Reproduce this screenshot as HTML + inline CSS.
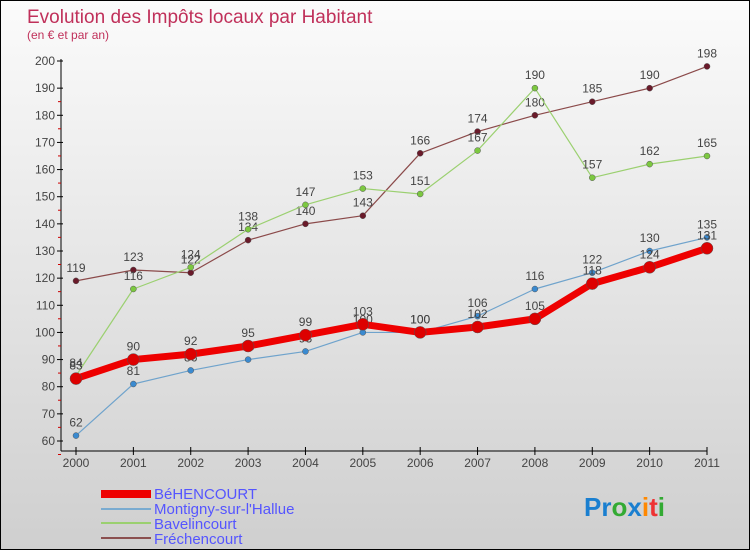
<!DOCTYPE html>
<html><head><meta charset="utf-8"><style>
body{margin:0}
#c{width:748px;height:548px;border:1px solid #000;background:linear-gradient(#fbfbfb,#cfcfcf);position:relative;font-family:"Liberation Sans",sans-serif;overflow:hidden}
</style></head><body>
<div id="c">
<svg id="s" width="748" height="548" style="position:absolute;left:0;top:0">
<text x="26" y="22" font-size="19" fill="#c0305a">Evolution des Impôts locaux par Habitant</text>
<text x="26" y="38" font-size="12" fill="#c0305a">(en € et par an)</text>
<g id="axes"></g><g id="series"></g>
<g>
<rect x="100" y="489" width="50" height="8" fill="#e00"/>
<text x="153" y="498" font-size="15" fill="#55f">BéHENCOURT</text>
<rect x="100" y="507" width="50" height="2" fill="#7aabd0"/>
<text x="153" y="513" font-size="15" fill="#55f">Montigny-sur-l'Hallue</text>
<rect x="100" y="521" width="50" height="2" fill="#9bd070"/>
<text x="153" y="528" font-size="15" fill="#55f">Bavelincourt</text>
<rect x="100" y="536" width="50" height="2" fill="#8b5050"/>
<text x="153" y="543" font-size="15" fill="#55f">Fréchencourt</text>
</g>
<text x="583" y="515" font-size="26" font-weight="bold"><tspan fill="#1a7fd0">Pr</tspan><tspan fill="#3a3">o</tspan><tspan fill="#1a7fd0">x</tspan><tspan fill="#f80">i</tspan><tspan fill="#e33">t</tspan><tspan fill="#3a3">i</tspan></text>
</svg>
</div>
<script>
const years=[2000,2001,2002,2003,2004,2005,2006,2007,2008,2009,2010,2011];
const behencourt=[83,90,92,95,99,103,100,102,105,118,124,131];
const montigny=[62,81,86,90,93,100,100,106,116,122,130,135];
const bavelincourt=[84,116,124,138,147,153,151,167,190,157,162,165];
const frechencourt=[119,123,122,134,140,143,166,174,180,185,190,198];
const yTicks=[60,70,80,90,100,110,120,130,140,150,160,170,180,190,200];
const NS="http://www.w3.org/2000/svg";
function X(i){return 75+i*(706-75)/11;}
function Y(v){return 440-(v-60)*380/140;}
function mk(t,a,p){const e=document.createElementNS(NS,t);for(const k in a)e.setAttribute(k,a[k]);p.appendChild(e);return e;}
const ax=document.getElementById('axes');
let l=mk('line',{x1:60,y1:58,x2:60,y2:450,stroke:'#000'},ax);


l=mk('line',{x1:60,y1:450,x2:706,y2:450,stroke:'#000'},ax);


yTicks.forEach(v=>{
 const y=Y(v);
 mk('line',{x1:56,y1:y,x2:62,y2:y,stroke:'#000'},ax);
 if(v<200)mk('line',{x1:57,y1:y+13.5,x2:60,y2:y+13.5,stroke:'#c00'},ax);
 const t=mk('text',{x:54,y:y+4,'font-size':12,fill:'#444','text-anchor':'end'},ax);
 t.textContent=v;
 
 
});
years.forEach((yr,i)=>{
 const x=X(i);
 mk('line',{x1:x,y1:446,x2:x,y2:454,stroke:'#000'},ax);
 const t=mk('text',{x:x,y:466,'font-size':12,fill:'#444','text-anchor':'middle'},ax);
 t.textContent=yr;
 
 
});
const sg=document.getElementById('series');
function series(name,data,color,w,dot,r){
 const g=mk('g',{},sg);
 
 
 const p=mk('polyline',{points:data.map((v,i)=>X(i)+','+Y(v)).join(' '),fill:'none',stroke:color,'stroke-width':w,'stroke-linejoin':'round'},g);
 
 
 data.forEach((v,i)=>{
  const c=mk('circle',{cx:X(i),cy:Y(v),r:r,fill:dot,stroke:'#555','stroke-width':0.5},g);
  
  
  const t=mk('text',{x:X(i),y:Y(v)-9,'font-size':12,fill:'#444','text-anchor':'middle'},g);
  t.textContent=v;
  
  
 });
}
series('frechencourt',frechencourt,'#8b4a4a',1.2,'#6a1a2a',3);
series('bavelincourt',bavelincourt,'#9bd070',1.2,'#7cc840',3);
series('montigny',montigny,'#6fa3cc',1.2,'#3a8ad0',3);
series('behencourt',behencourt,'#ee0000',7,'#dd0000',6);
</script>
</body></html>
